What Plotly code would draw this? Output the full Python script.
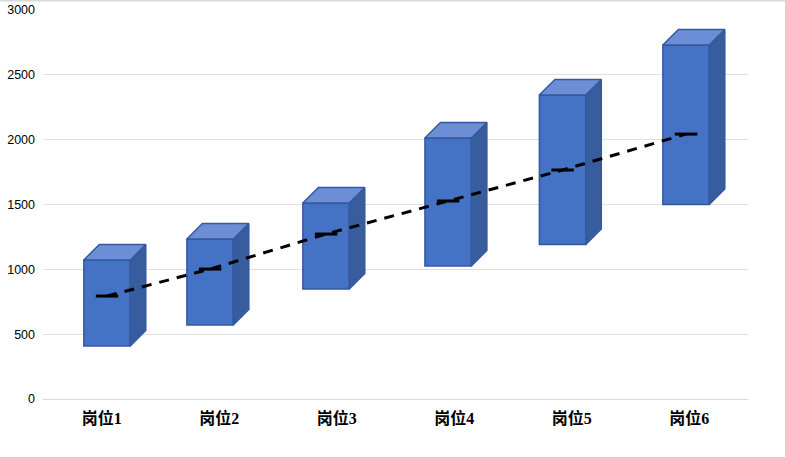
import plotly.graph_objects as go

categories = ["岗位1", "岗位2", "岗位3", "岗位4", "岗位5", "岗位6"]
box_low = [409, 571, 848, 1026, 1191, 1500]
box_high = [1072, 1234, 1511, 2013, 2344, 2730]
line_values = [794, 1002, 1272, 1527, 1766, 2043]
box_center = [0.045, 0.922, 1.909, 2.948, 3.922, 4.973]
y_ticks = [0, 500, 1000, 1500, 2000, 2500, 3000]

BOX_W = 0.395
DEPTH_X = 0.132
DEPTH_Y = 120
FRONT = "#4472C4"
TOP = "#6B8ED6"
SIDE = "#385D9F"
EDGE = "#35599F"

fig = go.Figure()
fig.add_trace(go.Bar(
    x=box_center, y=[h - l for h, l in zip(box_high, box_low)], base=box_low,
    width=BOX_W, marker=dict(color=FRONT, line=dict(color=EDGE, width=1.5)),
    showlegend=False, hoverinfo="skip",
))
for c, lo, hi in zip(box_center, box_low, box_high):
    l, r = c - BOX_W / 2, c + BOX_W / 2
    fig.add_trace(go.Scatter(
        x=[r, r + DEPTH_X, r + DEPTH_X, r, r], y=[lo, lo + DEPTH_Y, hi + DEPTH_Y, hi, lo],
        mode="lines", fill="toself", fillcolor=SIDE, line=dict(color=EDGE, width=1.5),
        showlegend=False, hoverinfo="skip",
    ))
    fig.add_trace(go.Scatter(
        x=[l, l + DEPTH_X, r + DEPTH_X, r, l], y=[hi, hi + DEPTH_Y, hi + DEPTH_Y, hi, hi],
        mode="lines", fill="toself", fillcolor=TOP, line=dict(color=EDGE, width=1.5),
        showlegend=False, hoverinfo="skip",
    ))
fig.add_trace(go.Scatter(
    x=box_center, y=line_values, mode="lines+markers",
    line=dict(color="black", width=3, dash="10px,8px"),
    marker=dict(symbol="line-ew", size=16, line=dict(color="black", width=3), color="black"),
    showlegend=False, hoverinfo="skip",
))

fig.update_layout(
    width=785, height=457, margin=dict(l=43, r=37, t=10, b=58, autoexpand=False),
    paper_bgcolor="white", plot_bgcolor="white", showlegend=False,
    xaxis=dict(range=[-0.5, 5.5], tickmode="array", tickvals=list(range(6)), ticktext=categories,
               showgrid=False, zeroline=False, showline=False, ticks="", ticklen=0, automargin=False,
               ticklabelstandoff=8,
               tickfont=dict(family="Liberation Serif, Noto Sans CJK SC", size=16, color="black", weight="bold")),
    yaxis=dict(range=[0, 3000], tickmode="array", tickvals=y_ticks, showgrid=True, gridcolor="#e0e0e0",
               gridwidth=1, zeroline=True, zerolinecolor="#d9d9d9", zerolinewidth=1, showline=False,
               ticks="", automargin=False, ticklabelstandoff=7,
               tickfont=dict(family="Liberation Sans", size=12.5, color="black")),
    shapes=[dict(type="line", xref="paper", yref="paper", x0=-0.1, x1=1.1, y0=1.0244, y1=1.0244,
                 line=dict(color="#d9d9d9", width=2))],
)
fig.write_html("out.html", config={"displayModeBar": False},
               post_script="document.body.style.margin='0';document.body.style.overflow='hidden';")
